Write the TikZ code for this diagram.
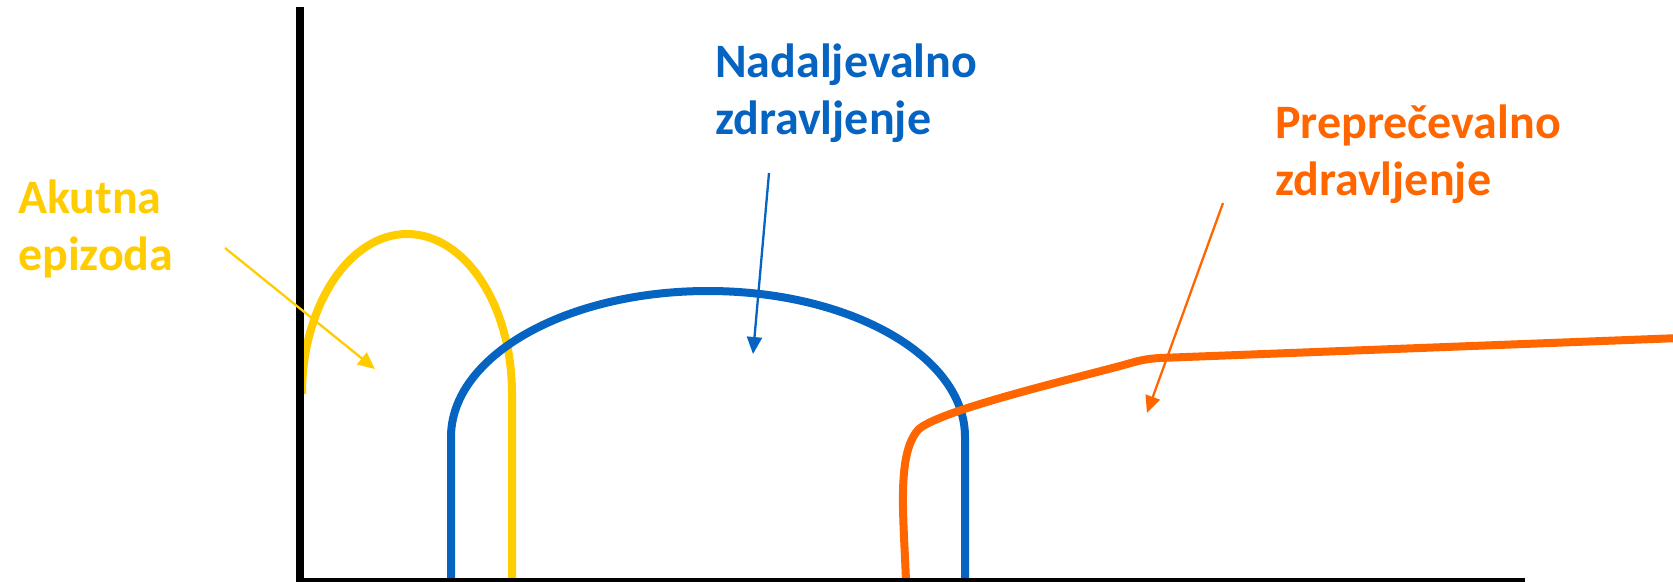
\documentclass[tikz,border=0pt]{standalone}
\usepackage{fontspec}
\setmainfont{Carlito}
\usetikzlibrary{arrows.meta}
\definecolor{cyellow}{HTML}{FFCC00}
\definecolor{cblue}{HTML}{0563C1}
\definecolor{corange}{HTML}{FF6600}
\begin{document}
\begin{tikzpicture}[x=1pt,y=-1pt,
  curve/.style={line width=8pt},
  pointer/.style={line width=2.3pt,-{Triangle[length=17pt,width=15pt]}},
  lbl/.style={font=\bfseries\fontsize{48}{57}\selectfont, inner sep=0pt, anchor=base west, align=left}]
\useasboundingbox (0,0) rectangle (1673,581);
% yellow acute episode curve
\draw[curve, cyellow] (302,394) .. controls (302,305) and (350,234) .. (407,234)
   .. controls (465,234) and (512,305) .. (512,394) -- (512,582);
% blue continuation curve
\draw[curve, cblue] (451,582) -- (451,437) .. controls (451,356) and (566,291) .. (708,291)
   .. controls (850,291) and (965,356) .. (965,437) -- (965,582);
% orange prevention curve
\draw[curve, corange] (906,582) .. controls (904,520) and (896,455) .. (918,430)
   .. controls (935,412) and (1060,382) .. (1120,366)
   .. controls (1135,362) and (1142,359) .. (1160,358) -- (1680,338);
% axes
\draw[line width=8pt, black] (300,7) -- (300,582);
\draw[line width=8pt, black] (296,582) -- (1525,582);
% labels (anchor base = baseline of the last line)
\node[lbl, text=cyellow] (ak) at (18,270) {Akutna\\epizoda};
\node[lbl, text=cblue] (na) at (715,134) {Nadaljevalno\\zdravljenje};
\node[lbl, text=corange] (pr) at (1275,195) {Prepre\v{c}evalno\\zdravljenje};
% pointers
\coordinate (ys) at (225,248); \coordinate (ye) at (375,369);
\coordinate (bs) at (769,173); \coordinate (be) at (753,354);
\coordinate (os) at (1223,203); \coordinate (oe) at (1147,413);
\draw[pointer, cyellow] (ys) -- (ye);
\draw[pointer, cblue] (bs) -- (be);
\draw[pointer, corange] (os) -- (oe);
\end{tikzpicture}
\end{document}
